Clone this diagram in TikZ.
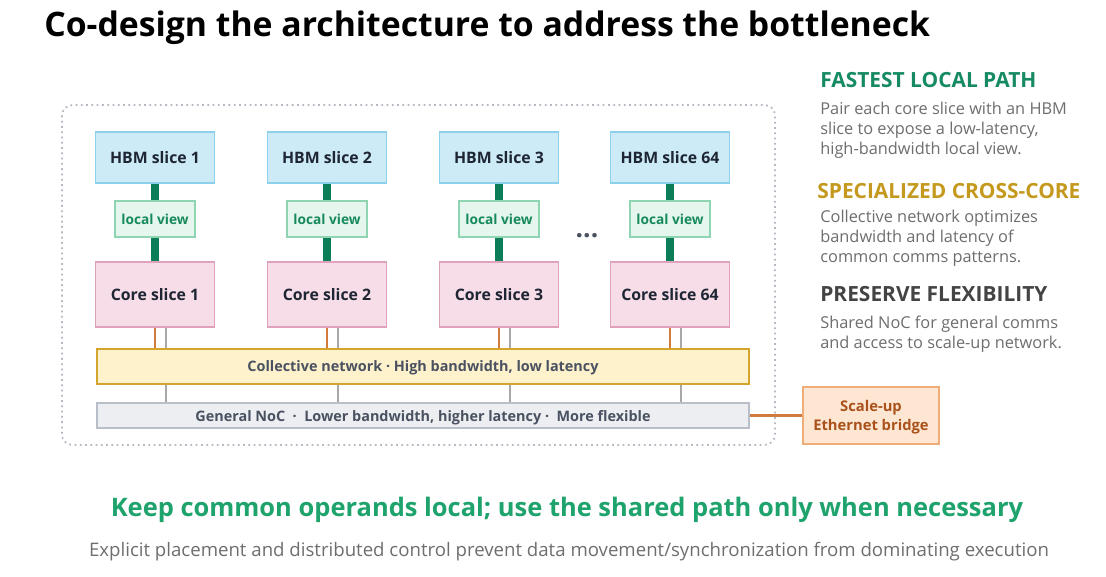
\documentclass[tikz,border=0pt]{standalone}
\usepackage{fontspec}
\setmainfont{Open Sans}
\usetikzlibrary{positioning}
% box colours
\definecolor{hbmfill}{HTML}{CDEAF7}
\definecolor{hbmline}{HTML}{8DD0EC}
\definecolor{viewfill}{HTML}{E5F6EE}
\definecolor{viewline}{HTML}{8FD5B2}
\definecolor{viewtext}{HTML}{178A5C}
\definecolor{linkgreen}{HTML}{0B7D59}
\definecolor{corefill}{HTML}{F6DDE8}
\definecolor{coreline}{HTML}{DFA1BC}
\definecolor{boxtext}{HTML}{1E2533}
\definecolor{orangelink}{HTML}{D07A3C}
\definecolor{graylink}{HTML}{A8A8A8}
\definecolor{collfill}{HTML}{FDF2CC}
\definecolor{collline}{HTML}{D4A52C}
\definecolor{nocfill}{HTML}{ECEEF2}
\definecolor{nocline}{HTML}{B9BFC9}
\definecolor{nettext}{HTML}{4A5160}
\definecolor{bridgefill}{HTML}{FDE6D2}
\definecolor{bridgeline}{HTML}{EFAE79}
\definecolor{bridgetext}{HTML}{A9521C}
% text colours
\definecolor{headgreen}{HTML}{168A62}
\definecolor{headgold}{HTML}{C4991E}
\definecolor{headgray}{HTML}{444444}
\definecolor{bodygray}{HTML}{6E6E6E}
\definecolor{keepgreen}{HTML}{1EA36C}
\definecolor{framedots}{HTML}{B4B9C2}
\begin{document}
\begin{tikzpicture}[x=0.02cm,y=-0.02cm,
    slicebox/.style={draw, line width=0.8pt, minimum width=2.38cm, inner sep=0pt,
      text=boxtext, font=\bfseries\fontsize{9}{11}\selectfont},
    hbm/.style={slicebox, fill=hbmfill, draw=hbmline, minimum height=1.02cm},
    core/.style={slicebox, fill=corefill, draw=coreline, minimum height=1.3cm},
    view/.style={draw=viewline, fill=viewfill, line width=0.8pt, inner sep=0pt,
      minimum width=1.6cm, minimum height=0.72cm, text=viewtext,
      font=\bfseries\fontsize{7.8}{9}\selectfont},
    network/.style={draw, line width=0.8pt, minimum width=13.04cm, inner sep=0pt,
      text depth=0pt, text=nettext, font=\bfseries\fontsize{8.2}{10}\selectfont},
    greenlink/.style={draw=linkgreen, line width=4.5pt},
    orangelink/.style={draw=orangelink, line width=1.4pt},
    graylink/.style={draw=graylink, line width=0.9pt},
    heading/.style={anchor=base west, inner sep=0pt, font=\bfseries\fontsize{11.9}{14}\selectfont},
    body/.style={anchor=north west, inner sep=0pt, align=left, text=bodygray,
      font=\fontsize{9.3}{11.34}\selectfont}]
\useasboundingbox (0,0) rectangle (1106,577);
\fill[white] (0,0) rectangle (1106,577);

\node[anchor=base west, inner sep=0pt, font=\bfseries\fontsize{19.2}{23}\selectfont] (title)
  at (44,37) {Co-design the architecture to address the bottleneck};

% dotted frame
\draw[framedots, line width=1pt, dotted, rounded corners=6pt] (62,105) rectangle (775,445);

% networks
\node[network, fill=collfill, draw=collline, minimum height=0.7cm] (coll) at (423,366.5)
  {Collective network · High bandwidth, low latency};
\node[network, fill=nocfill, draw=nocline, minimum height=0.5cm] (noc) at (423,415.5)
  {General NoC\ \ ·\ \ Lower bandwidth, higher latency\ ·\ \ More flexible};

% slices
\foreach \x/\n in {155/1,327/2,499/3,670/64}{
  \node[hbm] (hbm\n) at (\x,157.5) {HBM slice \n};
  \node[view] (view\n) at (\x,219) {local view};
  \node[core] (core\n) at (\x,294.5) {Core slice \n};
  \draw[greenlink] (hbm\n) -- (view\n);
  \draw[greenlink] (view\n) -- (core\n);
  \draw[orangelink] (core\n.south) -- (core\n.south |- coll.north);
  \draw[graylink] ([xshift=0.22cm]core\n.south) -- ([xshift=0.22cm]core\n.south |- coll.north);
  \draw[graylink] ([xshift=0.22cm]core\n.south |- coll.south) -- ([xshift=0.22cm]core\n.south |- noc.north);
}
\node[text=nettext, font=\bfseries\fontsize{15}{15}\selectfont] (dots) at (587,236) {...};

% bridge
\node[draw=bridgeline, fill=bridgefill, line width=0.8pt, minimum width=2.72cm, minimum height=1.14cm,
  align=center, text depth=0pt, text=bridgetext, font=\bfseries\fontsize{8.4}{10.8}\selectfont] (bridge) at (871,415.5)
  {Scale-up\\Ethernet bridge};
\draw[orangelink] (noc.east) -- (bridge.west);

% side notes
\node[heading, text=headgreen] (fast) at (820,88) {FASTEST LOCAL PATH};
\node[body] (fasttxt) at (820,102) {Pair each core slice with an HBM\\slice to expose a low-latency,\\high-bandwidth local view.};
\node[heading, text=headgold] (spec) at (817,199) {SPECIALIZED CROSS-CORE};
\node[body] (spectxt) at (820,210) {Collective network optimizes\\bandwidth and latency of\\common comms patterns.};
\node[heading, text=headgray] (flex) at (820,302) {PRESERVE FLEXIBILITY};
\node[body] (flextxt) at (820,316) {Shared NoC for general comms\\and access to scale-up network.};

% bottom lines
\node[anchor=base, inner sep=0pt, text=keepgreen, font=\bfseries\fontsize{14.5}{17}\selectfont] (keep)
  at (567,517) {Keep common operands local; use the shared path only when necessary};
\node[anchor=base, inner sep=0pt, text=bodygray, font=\fontsize{10.6}{12}\selectfont] (note)
  at (569,557) {Explicit placement and distributed control prevent data movement/synchronization from dominating execution};
\end{tikzpicture}
\end{document}
